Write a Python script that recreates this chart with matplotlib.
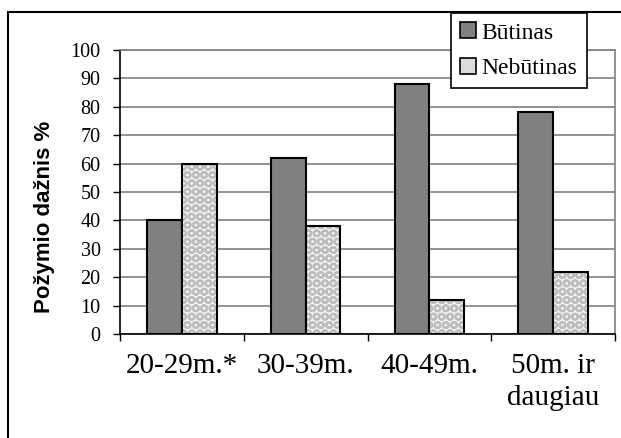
import numpy as np
import matplotlib
matplotlib.use('Agg')
import matplotlib.pyplot as plt
from matplotlib.patches import Rectangle, Patch

# Duomenys
kategorijos = ['20-29m.*', '30-39m.', '40-49m.', '50m. ir\ndaugiau']
butinas = [40, 62, 88, 78]
nebutinas = [60, 38, 12, 22]
y_ticks = list(range(0, 101, 10))

plt.rcParams['font.family'] = 'Liberation Serif'
plt.rcParams['hatch.linewidth'] = 1.6

W, H = 621, 438
fig = plt.figure(figsize=(W / 100, H / 100), dpi=100)
ax = fig.add_axes([120 / W, 1 - 334 / H, 495 / W, 284 / H])

x = np.arange(len(kategorijos))
plotis = 0.28

# Būtinas - tamsiai pilki stulpeliai
ax.bar(x - plotis / 2, butinas, plotis, color='#808080', edgecolor='black', linewidth=1.5, zorder=3)

# Nebūtinas - taškuotas raštas
ax.bar(x + plotis / 2, nebutinas, plotis, color='#f4f4f4', edgecolor='#bdbdbd', hatch='OO', linewidth=0, zorder=3)
ax.bar(x + plotis / 2, nebutinas, plotis, fill=False, edgecolor='black', linewidth=1.5, zorder=4)

ax.set_xlim(-0.5, len(kategorijos) - 0.5)
ax.set_ylim(0, 100)
ax.set_yticks(y_ticks)
ax.tick_params(axis='y', labelsize=14.5, length=5, width=1, pad=9, direction='out')
ax.yaxis.grid(True, color='#808080', linewidth=1.2, zorder=0)

# x ašies padalos tarp kategorijų, užrašai per vidurį
ax.set_xticks(np.arange(len(kategorijos) + 1) - 0.5)
ax.set_xticklabels([])
ax.set_xticks(x, minor=True)
ax.set_xticklabels(kategorijos, minor=True, fontsize=21, linespacing=1.3)
ax.tick_params(axis='x', which='major', length=5, width=1, direction='out')
ax.tick_params(axis='x', which='minor', length=0, pad=14)

for s in ['left', 'bottom']:
    ax.spines[s].set_color('black')
    ax.spines[s].set_linewidth(1.2)
for s in ['top', 'right']:
    ax.spines[s].set_color('#808080')
    ax.spines[s].set_linewidth(1.2)

fig.text(45 / W, 1 - 217 / H, 'Požymio dažnis %', rotation=90, ha='center', va='center',
         fontsize=16, fontweight='bold', family='Liberation Sans')

# Legenda
rankenos = [Patch(facecolor='#808080', edgecolor='black', linewidth=1.2, label='Būtinas'),
            Patch(facecolor='#dcdcdc', edgecolor='black', linewidth=1.2, label='Nebūtinas')]
leg = fig.legend(handles=rankenos, loc='upper left', bbox_to_anchor=(451 / W, 1 - 13 / H),
                 bbox_transform=fig.transFigure, fontsize=17, frameon=True, fancybox=False,
                 edgecolor='black', framealpha=1, handlelength=0.65, handleheight=0.65,
                 handletextpad=0.25, borderpad=0.4, labelspacing=0.6, borderaxespad=0)
leg.get_frame().set_linewidth(1.2)
leg.set_zorder(10)

# Rėmelis aplink visą diagramą
fig.add_artist(Rectangle((8 / W, -0.1), 1.2, 1 - 12 / H + 0.1, transform=fig.transFigure,
                         fill=False, edgecolor='black', linewidth=1.5))

fig.savefig('out.png', dpi=100)
